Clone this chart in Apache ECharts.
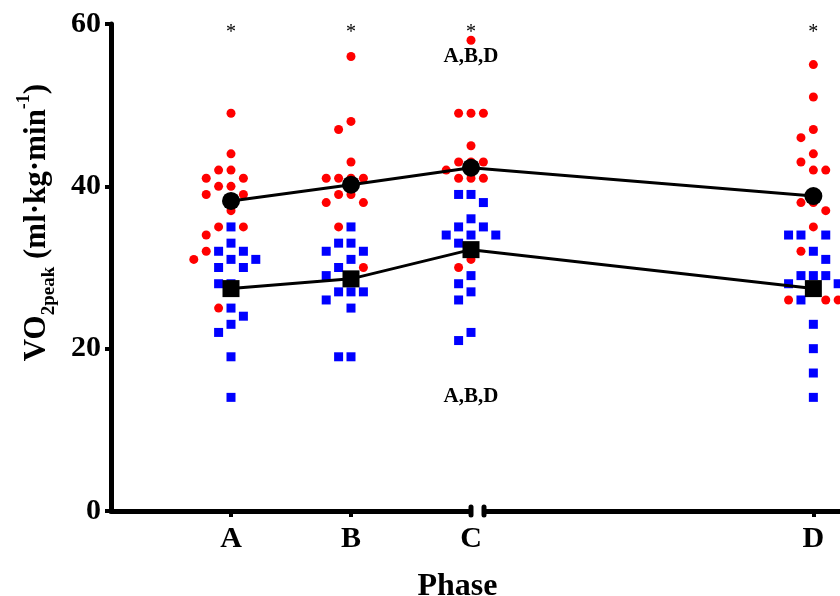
<!DOCTYPE html>
<html>
<head>
<meta charset="utf-8">
<script src="https://cdn.jsdelivr.net/npm/echarts@6/dist/echarts.min.js"></script>
<style>html,body{margin:0;padding:0;background:#fff;}#chart{width:840px;height:596px;}</style>
</head>
<body>
<div id="chart"></div>
<script>
// ---- data ----
const phases = ['A', 'B', 'C', 'D'];
const redA = [49, 44, 42, 42, 41, 41, 40, 40, 39, 39, 37, 35, 35, 34, 32, 31, 25];
const blueA = [35, 33, 32, 32, 31, 31, 30, 30, 28, 28, 25, 24, 23, 22, 19, 14];
const redB = [56, 48, 47, 43, 41, 41, 41, 41, 39, 39, 38, 38, 35, 30];
const blueB = [35, 33, 33, 32, 32, 31, 30, 29, 29, 27, 27, 27, 26, 25, 19, 19];
const redC = [58, 49, 49, 49, 45, 43, 43, 43, 42, 41, 41, 41, 31, 30];
const blueC = [39, 39, 38, 36, 35, 35, 34, 34, 34, 33, 29, 28, 27, 26, 22, 21];
const redD = [55, 51, 47, 46, 44, 43, 42, 42, 38, 38, 37, 35, 32, 26, 26, 26];
const blueD = [34, 34, 34, 32, 31, 29, 29, 29, 28, 28, 27, 26, 23, 20, 17, 14];
const meanRed = [38.2, 40.2, 42.3, 38.8];
const meanBlue = [27.4, 28.6, 32.2, 27.4];
const starLabels = ['*', '*', '*', '*'];
const starValue = 59.4;
const annotations = [
  { phase: 'C', value: 56.0, text: 'A,B,D' },
  { phase: 'C', value: 14.1, text: 'A,B,D' }
];
const yTicks = [0, 20, 40, 60];

// ---- layout (axis positions of phases on the broken x axis) ----
const phaseX = { A: 1, B: 2, C: 3, D: 5.853 };
const xMax = 6.075;
const slotW = 0.1033;
const slotOrder = [0, -1, 1, -2, 2, -3, 3, -4, 4, -5, 5];
const minGap = 1.5; // points closer than this in value may not share a column

const redSets = [redA, redB, redC, redD];
const blueSets = [blueA, blueB, blueC, blueD];

// deterministic beeswarm placement
const redPts = [], bluePts = [];
phases.forEach((p, i) => {
  const pts = [];
  blueSets[i].forEach(v => pts.push({ v, c: 'b' }));
  redSets[i].forEach(v => pts.push({ v, c: 'r' }));
  pts.sort((a, b) => b.v - a.v);
  const cols = {};
  pts.forEach(pt => {
    let slot = slotOrder[slotOrder.length - 1];
    for (const s of slotOrder) {
      const col = cols[s] || [];
      if (col.every(u => Math.abs(u - pt.v) >= minGap)) { slot = s; break; }
    }
    (cols[slot] = cols[slot] || []).push(pt.v);
    (pt.c === 'r' ? redPts : bluePts).push([phaseX[p] + slot * slotW, pt.v]);
  });
});

const serif = '"Liberation Serif", "Times New Roman", serif';
const chart = echarts.init(document.getElementById('chart'), null, { renderer: 'canvas' });

const option = {
  animation: false,
  backgroundColor: '#ffffff',
  grid: { left: 111, right: 0, top: 24, bottom: 85, containLabel: false, outerBoundsMode: 'none' },
  xAxis: {
    type: 'value',
    min: 0,
    max: xMax,
    splitLine: { show: false },
    axisLine: { lineStyle: { color: '#000', width: 5 } },
    axisTick: { show: true, length: 6, lineStyle: { color: '#000', width: 4 },
      customValues: [phaseX.A, phaseX.B, phaseX.D] },
    axisLabel: {
      customValues: phases.map(p => phaseX[p]),
      formatter: v => { const p = phases.find(q => Math.abs(phaseX[q] - v) < 1e-6); return p || ''; },
      color: '#000', fontFamily: serif, fontWeight: 'bold', fontSize: 30, margin: 13
    },
    name: 'Phase',
    nameLocation: 'middle',
    nameGap: 60,
    nameTextStyle: { color: '#000', fontFamily: serif, fontWeight: 'bold', fontSize: 32, padding: [0, 36, 0, 0] }
  },
  yAxis: {
    type: 'value',
    min: 0,
    max: 60,
    interval: 20,
    splitLine: { show: false },
    axisLine: { show: true, lineStyle: { color: '#000', width: 5 } },
    axisTick: { show: true, length: 6, lineStyle: { color: '#000', width: 4 } },
    axisLabel: { color: '#000', fontFamily: serif, fontWeight: 'bold', fontSize: 30, margin: 10,
      formatter: v => (yTicks.indexOf(v) >= 0 ? String(v) : '') },
    name: '{b|VO}{s|2peak}{b| (ml·kg·min}{p|-1}{b|)}',
    nameLocation: 'middle',
    nameRotate: 90,
    nameGap: 52,
    nameTextStyle: {
      color: '#000',
      padding: [0, 0, 0, 90],
      rich: {
        b: { fontFamily: serif, fontWeight: 'bold', fontSize: 31, lineHeight: 44, color: '#000' },
        s: { fontFamily: serif, fontWeight: 'bold', fontSize: 19, lineHeight: 19, verticalAlign: 'bottom', color: '#000' },
        p: { fontFamily: serif, fontWeight: 'bold', fontSize: 18, lineHeight: 18, verticalAlign: 'top', color: '#000' }
      }
    }
  },
  series: [
    {
      name: 'blue', type: 'scatter', data: bluePts, symbol: 'rect', symbolSize: 9,
      itemStyle: { color: '#0000ff', opacity: 1 }, emphasis: { disabled: true }, z: 2
    },
    {
      name: 'red', type: 'scatter', data: redPts, symbol: 'circle', symbolSize: 9,
      itemStyle: { color: '#ff0000', opacity: 1 }, emphasis: { disabled: true }, z: 2
    },
    {
      name: 'meanBlue', type: 'line', data: phases.map((p, i) => [phaseX[p], meanBlue[i]]),
      symbol: 'rect', symbolSize: 17, showAllSymbol: true,
      lineStyle: { color: '#000', width: 3 }, itemStyle: { color: '#000', opacity: 1 }, z: 5
    },
    {
      name: 'meanRed', type: 'line', data: phases.map((p, i) => [phaseX[p], meanRed[i]]),
      symbol: 'circle', symbolSize: 18, showAllSymbol: true,
      lineStyle: { color: '#000', width: 3 }, itemStyle: { color: '#000', opacity: 1 }, z: 5
    },
    {
      name: 'stars', type: 'scatter', symbolSize: 0.1, z: 6,
      itemStyle: { opacity: 1, color: 'rgba(0,0,0,0)' },
      data: phases.map((p, i) => ({ value: [phaseX[p], starValue], label: { formatter: starLabels[i] } })),
      label: { show: true, position: 'inside', color: '#000', opacity: 1, fontFamily: serif, fontSize: 20, offset: [0, 4] }
    },
    {
      name: 'notes', type: 'scatter', symbolSize: 0.1, z: 6,
      itemStyle: { opacity: 1, color: 'rgba(0,0,0,0)' },
      data: annotations.map(a => ({ value: [phaseX[a.phase], a.value], label: { formatter: a.text } })),
      label: { show: true, position: 'inside', color: '#000', opacity: 1, fontFamily: serif, fontWeight: 'bold', fontSize: 21 }
    }
  ]
};
chart.setOption(option);

// axis break mark just right of C
const pc = chart.convertToPixel({ xAxisIndex: 0, yAxisIndex: 0 }, [phaseX.C, 0]);
const cx = pc[0], cy = pc[1];
chart.setOption({
  graphic: [
    { type: 'rect', shape: { x: cx + 2, y: cy - 6, width: 9, height: 12 }, style: { fill: '#fff' }, z: 100 },
    { type: 'rect', shape: { x: cx - 2.5, y: cy - 6.5, width: 5, height: 13, r: 2.5 }, style: { fill: '#000' }, z: 101 },
    { type: 'rect', shape: { x: cx + 10.5, y: cy - 6.5, width: 5, height: 13, r: 2.5 }, style: { fill: '#000' }, z: 101 }
  ]
});
</script>
</body>
</html>
